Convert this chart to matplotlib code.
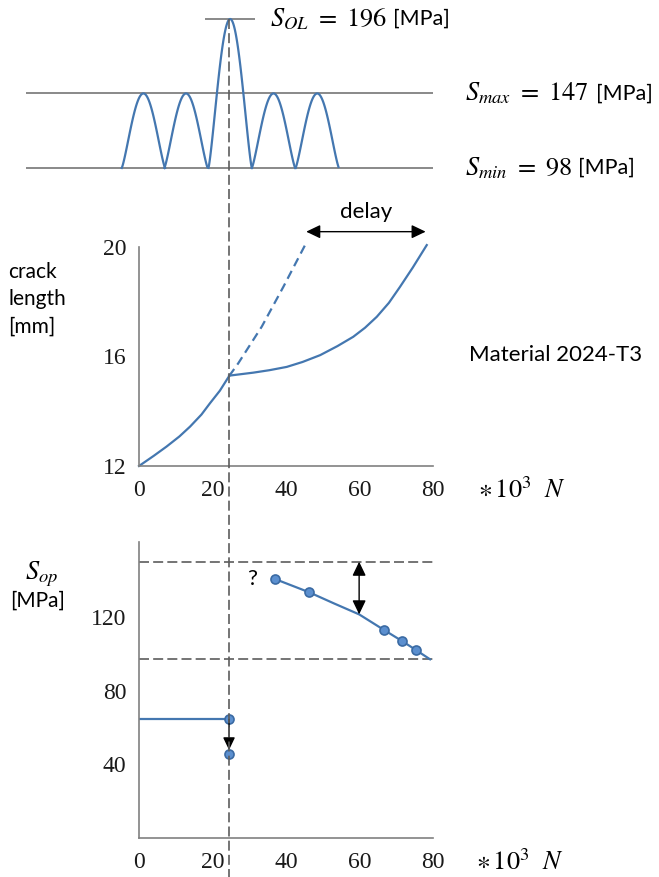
import numpy as np
import matplotlib.pyplot as plt
from matplotlib.transforms import blended_transform_factory

plt.rcParams['font.family'] = ['Lato', 'DejaVu Sans']
plt.rcParams['mathtext.fontset'] = 'stix'

W, H = 659, 877

#----Load sequence----

S_MIN = 98
S_MAX = 147
S_OL = 196
N_OL = 24.5
cycle_start = [-4.7, 6.9, 18.9, 30.7, 42.6]
cycle_peak = [S_MAX, S_MAX, S_OL, S_MAX, S_MAX]
cycle_width = 11.8

#----Crack length----

n_before = [0, 4.0, 7.5, 11.0, 13.9, 17.0, 19.3, 22.0, 24.5]
a_before = [12.0, 12.37, 12.71, 13.08, 13.44, 13.88, 14.29, 14.75, 15.28]
n_after = [24.5, 27.5, 31.1, 35.5, 40.2, 44.5, 49.3, 54.0, 58.3, 61.5, 64.7, 68.0, 71.0, 74.5, 78.3]
a_after = [15.30, 15.35, 15.41, 15.50, 15.62, 15.80, 16.05, 16.38, 16.72, 17.05, 17.45, 17.96, 18.54, 19.25, 20.07]
n_no_ol = [24.5, 27.0, 33.4, 39.3, 45.5]
a_no_ol = [15.28, 15.75, 17.09, 18.55, 20.15]
delay_from, delay_to = 45.5, 78.0

#----Opening stress----

n_sop_pts = [37.0, 46.3, 66.7, 71.6, 75.4]
s_sop_pts = [140.6, 133.4, 112.9, 106.9, 102.0]
n_sop_line = [37.0, 46.3, 53.0, 59.9, 66.7, 71.6, 75.4, 79.2]
s_sop_line = [140.6, 133.4, 127.4, 121.4, 112.9, 106.9, 102.0, 97.0]
sop_before = 64.4
sop_drop = 45.6
sop_upper = 150
sop_lower = 97
gap_arrow_n = 59.9

x_ticks = [0, 20, 40, 60, 80]
a_ticks = [12, 16, 20]
s_ticks = [40, 80, 120]

BLUE = '#4477b0'
MARK_FACE = '#5b8fcf'
MARK_EDGE = '#3a6aa3'
GREY = '#5c5c5c'
AXIS = '#808080'


def px_box(x0, y0, x1, y1):
    return [x0 / W, 1 - y1 / H, (x1 - x0) / W, (y1 - y0) / H]


def px_x(px):
    # horizontal pixel -> load cycles (x1000), shared by every panel
    return (px - 139) / 3.675


def style_axes(ax):
    for s in ['top', 'right']:
        ax.spines[s].set_visible(False)
    for s in ['left', 'bottom']:
        ax.spines[s].set_color(AXIS)
        ax.spines[s].set_linewidth(1.2)
    ax.tick_params(length=0, labelsize=17, colors='#1a1a1a')
    ax.tick_params(axis='x', pad=10)
    ax.tick_params(axis='y', pad=9)
    for lab in ax.get_xticklabels() + ax.get_yticklabels():
        lab.set_family('Liberation Serif')


fig = plt.figure(figsize=(W / 100, H / 100), dpi=100)

#----Top: load cycles----

ax_top = fig.add_axes(px_box(0, 0, W, 200))
ax_top.set_xlim(px_x(0), px_x(W))
ax_top.set_ylim(76.9, 208.5)
ax_top.axis('off')

ax_top.hlines([S_MIN, S_MAX], px_x(26), 80, color='#6a6a6a', lw=1.1)
ax_top.hlines(S_OL, px_x(205), px_x(255), color='#6a6a6a', lw=1.1)
for start, peak in zip(cycle_start, cycle_peak):
    x = np.linspace(start, start + cycle_width, 100)
    y = S_MIN + (peak - S_MIN) * np.sin(np.pi * (x - start) / cycle_width) ** 1.25
    ax_top.plot(x, y, color=BLUE, lw=1.6)

ax_top.text(px_x(270), S_OL, f'$S_{{OL}}\\ =\\ {S_OL}$', fontsize=19, va='center')
ax_top.text(px_x(393), S_OL, '[MPa]', fontsize=15.5, va='center')
ax_top.text(px_x(465), S_MAX, f'$S_{{max}}\\ =\\ {S_MAX}$', fontsize=19, va='center')
ax_top.text(px_x(596), S_MAX, '[MPa]', fontsize=15.5, va='center')
ax_top.text(px_x(465), S_MIN, f'$S_{{min}}\\ =\\ {S_MIN}$', fontsize=19, va='center')
ax_top.text(px_x(578), S_MIN, '[MPa]', fontsize=15.5, va='center')

#----Middle: crack length----

ax_mid = fig.add_axes(px_box(139, 247, 433, 466))
ax_mid.set_xlim(0, 80)
ax_mid.set_ylim(12, 20)
ax_mid.set_xticks(x_ticks)
ax_mid.set_yticks(a_ticks)
style_axes(ax_mid)

ax_mid.plot(n_before, a_before, color=BLUE, lw=1.6, clip_on=False)
ax_mid.plot(n_after, a_after, color=BLUE, lw=1.6, clip_on=False)
ax_mid.plot(n_no_ol, a_no_ol, color=BLUE, lw=1.6, ls=(0, (4, 2.4)), clip_on=False)
ax_mid.annotate('', xy=(delay_to, 20.56), xytext=(delay_from, 20.56),
                arrowprops=dict(arrowstyle='<|-|>,head_length=0.5,head_width=0.24',
                                color='black', lw=1, mutation_scale=17,
                                shrinkA=0, shrinkB=0),
                annotation_clip=False)
ax_mid.text(61.8, 21.28, 'delay', fontsize=16, ha='center', va='center')

fig.text(8 / W, 1 - 299 / H, 'crack\nlength\n[mm]', fontsize=15, ha='left', va='center',
         linespacing=1.45)
fig.text(469 / W, 1 - 355 / H, 'Material 2024-T3', fontsize=16, ha='left', va='center')
fig.text(478 / W, 1 - 490 / H, r'$\ast\,10^3\ \ N$', fontsize=19, ha='left', va='center')

#----Bottom: opening stress----

ax_bot = fig.add_axes(px_box(139, 541.8, 433, 838))
ax_bot.set_xlim(0, 80)
ax_bot.set_ylim(0, 160.8)
ax_bot.set_xticks(x_ticks)
ax_bot.set_yticks(s_ticks)
style_axes(ax_bot)

ax_bot.hlines([sop_upper, sop_lower], 0, 80, color=GREY, lw=1.2, linestyles=[(0, (6, 2.5))])
ax_bot.plot([0, N_OL], [sop_before, sop_before], color=BLUE, lw=1.6)
ax_bot.annotate('', xy=(N_OL, sop_drop + 2.2), xytext=(N_OL, sop_before),
                arrowprops=dict(arrowstyle='-|>,head_length=0.5,head_width=0.24',
                                color='black', lw=1, mutation_scale=15,
                                shrinkA=0, shrinkB=0))
ax_bot.plot([N_OL, N_OL], [sop_before, sop_drop], ls='none', marker='o', ms=6.5,
            mfc=MARK_FACE, mec=MARK_EDGE, mew=1.2, clip_on=False)
ax_bot.plot(n_sop_line, s_sop_line, color=BLUE, lw=1.6)
ax_bot.plot(n_sop_pts, s_sop_pts, ls='none', marker='o', ms=6.5,
            mfc=MARK_FACE, mec=MARK_EDGE, mew=1.2)
ax_bot.annotate('', xy=(gap_arrow_n, s_sop_line[3]), xytext=(gap_arrow_n, sop_upper),
                arrowprops=dict(arrowstyle='<|-|>,head_length=0.5,head_width=0.24',
                                color='black', lw=1, mutation_scale=17,
                                shrinkA=0, shrinkB=0))
ax_bot.text(px_x(251.7), 140.6, '?', fontsize=16, ha='center', va='center')

fig.text(42 / W, 1 - 574 / H, r'$S_{op}$', fontsize=19, ha='center', va='center')
fig.text(38 / W, 1 - 601 / H, '[MPa]', fontsize=15, ha='center', va='center')
fig.text(476 / W, 1 - 862 / H, r'$\ast\,10^3\ \ N$', fontsize=19, ha='left', va='center')

#----Overload marker line through all panels----

top_frac = fig.transFigure.inverted().transform(ax_top.transData.transform((N_OL, S_OL)))[1]
trans = blended_transform_factory(ax_mid.transData, fig.transFigure)
fig.add_artist(plt.Line2D([N_OL, N_OL], [top_frac, 0], transform=trans,
                          color=GREY, lw=1.2, ls=(0, (6, 2.5))))

fig.savefig('out.png', dpi=100)
